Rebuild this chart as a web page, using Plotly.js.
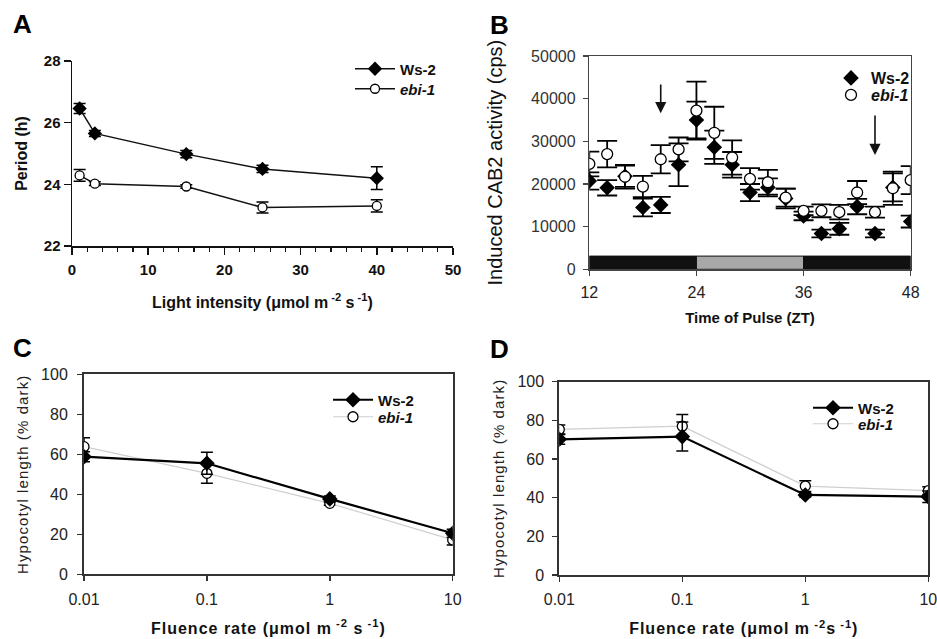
<!DOCTYPE html>
<html>
<head>
<meta charset="utf-8">
<script src="https://cdn.plot.ly/plotly-3.0.1.min.js"></script>
<style>
html,body{margin:0;padding:0;background:#fff;}
#chart{width:937px;height:639px;}
.x3title,.x4title{letter-spacing:1px;}
.y3title,.y4title{letter-spacing:1.1px;}
.legend2 .legendtext,.legend6 .legendtext{letter-spacing:1px;}
.legend3 .legendtext,.legend7 .legendtext,.legend4 .legendtext,.legend8 .legendtext{letter-spacing:0.6px;}
</style>
</head>
<body>
<div id="chart"></div>
<script>
// ---- Panel A: period vs light intensity ----
const A_x = [1, 3, 15, 25, 40];
const A_ws = [26.46, 25.65, 24.98, 24.5, 24.2];
const A_ws_err = [0.16, 0.1, 0.12, 0.12, 0.37];
const A_ebi = [24.29, 24.02, 23.93, 23.25, 23.3];
const A_ebi_err = [0.19, 0.06, 0.06, 0.18, 0.2];

// ---- Panel B: induced CAB2 activity vs time of pulse ----
const B_x = [12, 14, 16, 18, 20, 22, 24, 26, 28, 30, 32, 34, 36, 38, 40, 42, 44, 46, 48];
const B_ws = [20700, 19100, 21800, 14500, 15100, 24500, 35000, 28600, 24500, 18000, 19200, 16600, 12500, 8400, 9500, 14700, 8400, 19200, 11200];
const B_ws_err = [2000, 1800, 2500, 2100, 1900, 5000, 4300, 3900, 3000, 2000, 2100, 2300, 1000, 900, 1400, 1800, 900, 3300, 1400];
const B_ebi = [24700, 27000, 21700, 19400, 25800, 28100, 37200, 32000, 26200, 21200, 20400, 16800, 13700, 13700, 13400, 18000, 13400, 19000, 20900];
const B_ebi_err = [2900, 3100, 2800, 2500, 3300, 2800, 6800, 6100, 4000, 2500, 2900, 2100, 1000, 1500, 1700, 2700, 1300, 3900, 3300];
const B_light_bars = [[12, 24, '#111111'], [24, 36, '#a8a8a8'], [36, 48, '#111111']];
const B_bar_top = 3100;
const B_arrows = [[20, 43700, 36600], [44, 36400, 26800]];

// ---- Panels C and D: hypocotyl length vs fluence rate ----
const CD_x = [0.01, 0.1, 1, 10];
const C_ws = [58.8, 55.5, 37.7, 20.5];
const C_ws_err = [2.5, 5.5, 1.5, 2];
const C_ebi = [63.8, 50.5, 35.5, 17.2];
const C_ebi_err = [4.5, 5, 1, 2.5];
const D_ws = [70.2, 71.6, 41.4, 40.5];
const D_ws_err = [2.5, 7.5, 1, 3];
const D_ebi = [75.3, 77, 46, 43.6];
const D_ebi_err = [2.3, 6, 2.8, 2];
const CD_ticks = [0.01, 0.1, 1, 10];
const CD_ticktext = ['0.01', '0.1', '1', '10'];

const FONT = 'Liberation Sans, Arial, sans-serif';
const W = 937, H = 639;
const px = v => v / W;
const py = v => 1 - v / H;

function err(arr, w, t) {
  return {type: 'data', array: arr, visible: true, color: '#000', thickness: t || 1.5, width: w};
}

const traces = [
  // A
  {x: A_x, y: A_ws, xaxis: 'x', yaxis: 'y', mode: 'lines+markers', name: '<b>Ws-2</b>', legend: 'legend',
   line: {color: '#111', width: 1.5}, marker: {symbol: 'diamond', size: 11, color: '#000'}, error_y: err(A_ws_err, 6)},
  {x: A_x, y: A_ebi, xaxis: 'x', yaxis: 'y', mode: 'lines+markers', name: '<b><i>ebi-1</i></b>', legend: 'legend5',
   line: {color: '#111', width: 1.5}, marker: {symbol: 'circle', size: 9, color: '#fff', line: {color: '#000', width: 1.3}}, error_y: err(A_ebi_err, 6)},
  // B
  {x: B_x, y: B_ws, xaxis: 'x2', yaxis: 'y2', mode: 'markers', name: '<b>Ws-2</b>', legend: 'legend2',
   marker: {symbol: 'diamond', size: 12, color: '#000'}, error_y: err(B_ws_err, 10, 1.8)},
  {x: B_x, y: B_ebi, xaxis: 'x2', yaxis: 'y2', mode: 'markers', name: '<b><i>ebi-1</i></b>', legend: 'legend6',
   marker: {symbol: 'circle', size: 11, color: '#fff', line: {color: '#000', width: 1.3}}, error_y: err(B_ebi_err, 10, 1.8)},
  // C
  {x: CD_x, y: C_ebi, xaxis: 'x3', yaxis: 'y3', mode: 'lines+markers', name: '<b><i>ebi-1</i></b>', legend: 'legend7',
   line: {color: '#cfcfcf', width: 1.2}, marker: {symbol: 'circle', size: 10, color: '#fff', line: {color: '#000', width: 1.3}}, error_y: err(C_ebi_err, 6)},
  {x: CD_x, y: C_ws, xaxis: 'x3', yaxis: 'y3', mode: 'lines+markers', name: '<b>Ws-2</b>', legend: 'legend3',
   line: {color: '#000', width: 2.2}, marker: {symbol: 'diamond', size: 12, color: '#000'}, error_y: err(C_ws_err, 6)},
  // D
  {x: CD_x, y: D_ebi, xaxis: 'x4', yaxis: 'y4', mode: 'lines+markers', name: '<b><i>ebi-1</i></b>', legend: 'legend8',
   line: {color: '#cfcfcf', width: 1.2}, marker: {symbol: 'circle', size: 10, color: '#fff', line: {color: '#000', width: 1.3}}, error_y: err(D_ebi_err, 6)},
  {x: CD_x, y: D_ws, xaxis: 'x4', yaxis: 'y4', mode: 'lines+markers', name: '<b>Ws-2</b>', legend: 'legend4',
   line: {color: '#000', width: 2.2}, marker: {symbol: 'diamond', size: 12, color: '#000'}, error_y: err(D_ws_err, 6)}
];

const tickBold = {family: FONT, size: 15, color: '#111', weight: 'bold'};
const tickNorm = {family: FONT, size: 16, color: '#222'};
const titleA = {family: FONT, size: 16, color: '#111', weight: 'bold'};

const shapes = B_light_bars.map(b => ({
  type: 'rect', xref: 'x2', yref: 'y2', x0: b[0], x1: b[1], y0: 0, y1: B_bar_top,
  fillcolor: b[2], line: {color: '#111', width: 1}, layer: 'below'
}));

const letterFont = {family: FONT, size: 26, color: '#000'};
const annotations = [
  {text: '<b>A</b>', x: px(11), y: py(24), xref: 'paper', yref: 'paper', xanchor: 'left', yanchor: 'middle', showarrow: false, font: letterFont},
  {text: '<b>B</b>', x: px(488), y: py(25), xref: 'paper', yref: 'paper', xanchor: 'left', yanchor: 'middle', showarrow: false, font: letterFont},
  {text: '<b>C</b>', x: px(11), y: py(348), xref: 'paper', yref: 'paper', xanchor: 'left', yanchor: 'middle', showarrow: false, font: letterFont},
  {text: '<b>D</b>', x: px(488), y: py(349), xref: 'paper', yref: 'paper', xanchor: 'left', yanchor: 'middle', showarrow: false, font: letterFont}
];
B_arrows.forEach(a => annotations.push({
  x: a[0], y: a[2], ax: a[0], ay: a[1], xref: 'x2', yref: 'y2', axref: 'x2', ayref: 'y2',
  showarrow: true, arrowhead: 2, arrowsize: 1.4, arrowwidth: 1.6, arrowcolor: '#111', text: ''
}));

function leg(x, y, size, iw) {
  return {x: px(x), y: py(y), xanchor: 'left', yanchor: 'middle', bgcolor: 'rgba(0,0,0,0)',
          font: {family: FONT, size: size || 15, color: '#111'}, tracegroupgap: 0, itemwidth: iw || 40};
}

const layout = {
  width: W, height: H,
  margin: {l: 0, r: 0, t: 0, b: 0},
  paper_bgcolor: '#fff', plot_bgcolor: 'rgba(0,0,0,0)',
  font: {family: FONT, color: '#111'},
  showlegend: true,
  // A
  xaxis: {domain: [px(72), px(453)], anchor: 'y', range: [0, 50], dtick: 10, showgrid: false, zeroline: false,
    showline: true, linecolor: '#111', linewidth: 1.5, ticks: 'outside', ticklen: 7, tickwidth: 1.5, tickcolor: '#111',
    minor: {dtick: 2, ticks: 'outside', ticklen: 4, tickwidth: 1.2, tickcolor: '#111', showgrid: false},
    ticklabelstandoff: 2, tickfont: tickBold,
    title: {text: 'Light intensity (μmol m<sup> -2</sup> s<sup> -1</sup>)', font: titleA, standoff: 20}},
  yaxis: {domain: [py(246), py(61)], anchor: 'x', range: [22, 28], dtick: 2, showgrid: false, zeroline: false,
    showline: true, linecolor: '#111', linewidth: 1.5, ticks: 'outside', ticklen: 7, tickwidth: 1.5, tickcolor: '#111',
    tickfont: tickBold, title: {text: 'Period (h)', font: titleA, standoff: 12}},
  // B
  xaxis2: {domain: [px(589.3), px(910.7)], anchor: 'y2', range: [12, 48], tickvals: [12, 24, 36, 48], showgrid: false, zeroline: false,
    showline: true, mirror: true, linecolor: '#444', linewidth: 1.5, ticks: 'outside', ticklen: 5, tickwidth: 1.2, tickcolor: '#444',
    ticklabelstandoff: 3, ticklabeloverflow: 'allow', tickfont: tickNorm,
    title: {text: 'Time of Pulse (ZT)', font: {family: FONT, size: 15, color: '#111', weight: 'bold'}, standoff: 12}},
  yaxis2: {domain: [py(269.3), py(56)], anchor: 'x2', range: [0, 50000], dtick: 10000, tickformat: 'd', showgrid: false, zeroline: false,
    showline: true, mirror: true, linecolor: '#444', linewidth: 1.5, ticks: 'outside', ticklen: 5, tickwidth: 1.2, tickcolor: '#444',
    ticklabelstandoff: 4, tickfont: {family: FONT, size: 16, color: '#333'},
    title: {text: 'Induced CAB2 activity (cps)', font: {family: FONT, size: 20, color: '#111'}, standoff: 23}},
  // C
  xaxis3: {domain: [px(84), px(452.7)], anchor: 'y3', type: 'log', range: [-2, 1], tickvals: CD_ticks, ticktext: CD_ticktext, showgrid: false, zeroline: false,
    showline: true, mirror: true, linecolor: '#333', linewidth: 2, ticks: 'outside', ticklen: 5, tickwidth: 1.5, tickcolor: '#333',
    ticklabelstandoff: 4, ticklabeloverflow: 'allow', tickfont: tickNorm,
    title: {text: 'Fluence rate (μmol m<sup> -2</sup> s<sup> -1</sup>)', font: {family: FONT, size: 16, color: '#111', weight: 'bold'}, standoff: 16}},
  yaxis3: {domain: [py(574.3), py(374.3)], anchor: 'x3', range: [0, 100], dtick: 20, showgrid: false, zeroline: false,
    showline: true, mirror: true, linecolor: '#333', linewidth: 2, ticks: 'outside', ticklen: 5, tickwidth: 1.5, tickcolor: '#333',
    ticklabelstandoff: 6, tickfont: tickNorm,
    title: {text: 'Hypocotyl length (% dark)', font: {family: FONT, size: 15, color: '#222'}, standoff: 9}},
  // D
  xaxis4: {domain: [px(559.3), px(928.3)], anchor: 'y4', type: 'log', range: [-2, 1], tickvals: CD_ticks, ticktext: CD_ticktext, showgrid: false, zeroline: false,
    showline: true, mirror: true, linecolor: '#333', linewidth: 2, ticks: 'outside', ticklen: 5, tickwidth: 1.5, tickcolor: '#333',
    ticklabelstandoff: 4, ticklabeloverflow: 'allow', tickfont: tickNorm,
    title: {text: 'Fluence rate (μmol m<sup> -2</sup>s<sup> -1</sup>)', font: {family: FONT, size: 16, color: '#111', weight: 'bold'}, standoff: 16}},
  yaxis4: {domain: [py(575), py(381.7)], anchor: 'x4', range: [0, 100], dtick: 20, showgrid: false, zeroline: false,
    showline: true, mirror: true, linecolor: '#333', linewidth: 2, ticks: 'outside', ticklen: 5, tickwidth: 1.5, tickcolor: '#333',
    ticklabelstandoff: 5, tickfont: tickNorm,
    title: {text: 'Hypocotyl length (% dark)', font: {family: FONT, size: 15, color: '#222'}, standoff: 9}},
  legend: leg(350, 69), legend5: leg(350, 89),
  legend2: leg(831, 78, 16, 30), legend6: leg(831, 95, 16, 30),
  legend3: leg(328, 400), legend7: leg(328, 417),
  legend4: leg(808, 408), legend8: leg(808, 424),
  shapes: shapes,
  annotations: annotations
};

Plotly.newPlot('chart', traces, layout, {displayModeBar: false, staticPlot: true});
</script>
</body>
</html>
